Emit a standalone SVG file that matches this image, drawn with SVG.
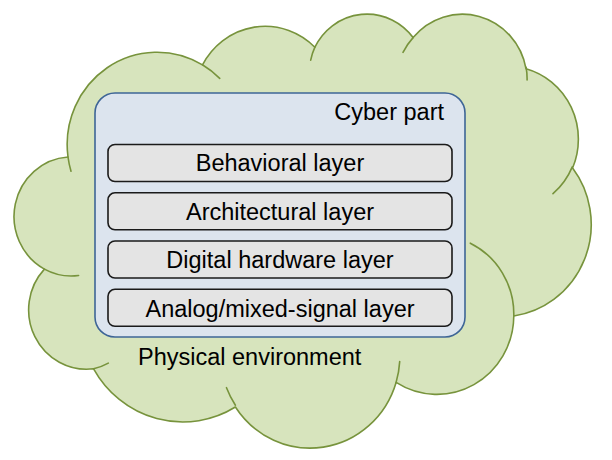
<svg xmlns="http://www.w3.org/2000/svg" width="612" height="460" viewBox="0 0 612 460">
  <style>
    .cloud { fill: #d7e4bd; stroke: #77933c; stroke-width: 1.6; stroke-linejoin: round; }
    .tail { fill: none; stroke: #77933c; stroke-width: 1.6; stroke-linecap: round; }
    .cyber { fill: #dce4ee; stroke: #3e6596; stroke-width: 1.6; }
    .layer { fill: #e4e4e4; stroke: #1a1a1a; stroke-width: 1.6; }
    .txt { font-family: "Liberation Sans", Arial, sans-serif; font-size: 23.5px; fill: #000; }
  </style>
  <rect width="612" height="460" fill="#ffffff"/>
  <g id="physical-environment">
    <path class="cloud" d="M68.0,157.0 A89.86,92.28 0 0 1 202.5,64.9 A70.97,72.97 0 0 1 314.9,47.2 A58.09,59.69 0 0 1 413.1,37.6 A64.63,66.22 0 0 1 526.0,68.7 A70.97,73.03 0 0 1 572.6,168.0 A90.15,92.58 0 0 1 513.8,316.0 A76.98,78.99 0 0 1 396.1,382.4 A89.85,92.53 0 0 1 235.4,407.0 A102.73,105.86 0 0 1 93.6,368.8 A58.02,59.42 0 0 1 44.4,269.1 A57.82,59.69 0 0 1 68.0,157.0 Z"/>
    <path class="tail" d="M78.6,275.5 A57.82,59.69 0 0 1 44.4,269.1 M108.3,363.1 A58.02,59.42 0 0 1 93.6,368.8 M235.4,405.2 A89.85,92.53 0 0 1 226.5,387.7 M399.7,361.6 A89.85,92.53 0 0 1 396.1,382.4 M470.3,243.2 A76.98,78.99 0 0 1 513.8,316.0 M572.3,166.9 A70.97,73.03 0 0 1 553.0,193.7 M526.1,67.2 A64.63,66.22 0 0 1 527.1,79.9 M403.0,52.4 A64.63,66.22 0 0 1 413.1,37.6 M310.7,60.1 A58.09,59.69 0 0 1 314.9,47.2 M202.4,64.8 A89.86,92.28 0 0 1 219.7,78.4 M71.0,171.2 A89.86,92.28 0 0 1 68.0,157.0"/>
    <text class="txt" x="138" y="365">Physical environment</text>
  </g>
  <g id="cyber-part">
    <rect class="cyber" x="95" y="93" width="370" height="244" rx="20" ry="20"/>
    <text class="txt" x="444" y="120" text-anchor="end">Cyber part</text>
  </g>
  <g id="behavioral-layer">
    <rect class="layer" x="108" y="144.5" width="344" height="37" rx="7" ry="7"/>
    <text class="txt" x="280" y="171" text-anchor="middle">Behavioral layer</text>
  </g>
  <g id="architectural-layer">
    <rect class="layer" x="108" y="192.8" width="344" height="37" rx="7" ry="7"/>
    <text class="txt" x="280" y="219.5" text-anchor="middle">Architectural layer</text>
  </g>
  <g id="digital-hardware-layer">
    <rect class="layer" x="108" y="241" width="344" height="37" rx="7" ry="7"/>
    <text class="txt" x="280" y="268" text-anchor="middle">Digital hardware layer</text>
  </g>
  <g id="analog-mixed-signal-layer">
    <rect class="layer" x="108" y="289.3" width="344" height="37" rx="7" ry="7"/>
    <text class="txt" x="280" y="316.5" text-anchor="middle">Analog/mixed-signal layer</text>
  </g>
  <g id="connectors"/>
</svg>
